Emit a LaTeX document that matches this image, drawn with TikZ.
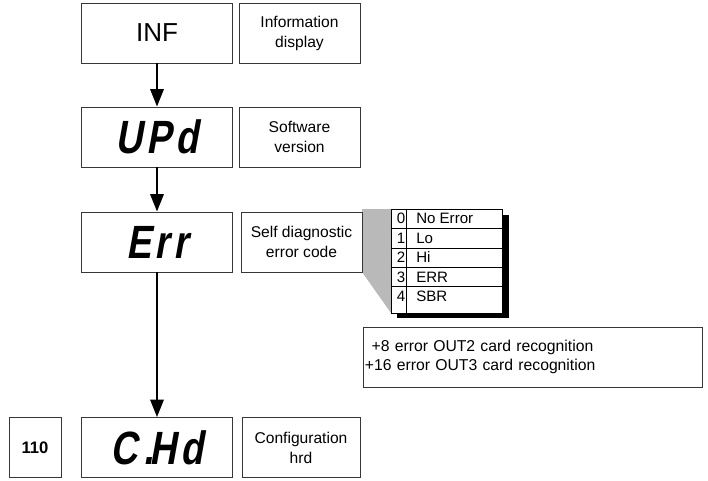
\documentclass[tikz,border=0pt]{standalone}
\usepackage{fontspec}
\setmainfont{Liberation Sans}
\newfontfamily\segfont[FakeSlant=0.18,FakeStretch=0.8,LetterSpace=8]{Liberation Sans}
\usetikzlibrary{arrows.meta}
\definecolor{boxline}{RGB}{55,55,55}
\definecolor{wedge}{RGB}{185,185,185}

\begin{document}
\begin{tikzpicture}[x=0.75pt,y=-0.75pt,>={Triangle[length=13pt,width=10pt]},
  box/.style={draw=boxline,line width=0.7pt,minimum height=45pt,inner sep=0pt},
  disp/.style={box,minimum width=113pt,font=\segfont\bfseries\fontsize{35}{35}\selectfont},
  lbl/.style={box,minimum width=90.75pt,align=center,font=\fontsize{11.7}{15}\selectfont},
  cell/.style={inner sep=0pt,font=\fontsize{11.3}{12}\selectfont},
  flow/.style={->,line width=1.5pt}]
\useasboundingbox (0,0) rectangle (708,480);
% wedge from the label to the code table
\fill[wedge] (362,209) -- (391,209) -- (391,313) -- (362,272) -- cycle;
% left column: displays
\node[box,minimum width=113pt,font=\fontsize{19.5}{20}\selectfont] (inf) at (157,33) {INF};
\node[disp] (upd) at (157,137) {UPd};
\node[disp] (err) at (157,242) {E\kern3pt r\kern3pt r};
\node[disp] (chd) at (157,447.5) {C\hspace{4pt}.\hspace{-3pt}Hd};
\node[box,minimum width=39pt,font=\bfseries\fontsize{12.5}{12.5}\selectfont] (code) at (35,447.5) {110};
% labels
\node[lbl] (infl) at (299.5,33) {Information\\display};
\node[lbl] (updl) at (299.5,137) {Software\\version};
\node[lbl] (errl) at (301.5,242) {Self diagnostic\\error code};
\node[lbl,minimum width=88.5pt] (chdl) at (301,447.5) {Configuration\\hrd};
\draw[flow] (inf) -- (upd);
\draw[flow] (upd) -- (err);
\draw[flow] (err) -- (chd);
% error code table
\fill (397,215) rectangle (509,318);
\node[draw,fill=white,line width=0.7pt,minimum width=83.25pt,minimum height=78pt,inner sep=0pt] (tab) at (446.5,261) {};
\draw[line width=0.7pt] ([xshift=12pt]tab.north west) -- ([xshift=12pt]tab.south west);
\foreach \y in {228,248,267,286}
  \draw[line width=0.7pt] (tab.west |- 0,\y) -- (tab.east |- 0,\y);
\foreach \n/\t in {0/No Error,1/Lo,2/Hi,3/ERR,4/SBR}{
  \node[cell] (n\n) at (401,218.5+19.5*\n) {\n};
  \node[cell,anchor=west] (t\n) at (416,218.5+19.5*\n) {\t};
}
% note on extra codes
\node[box,anchor=west,minimum width=254.25pt,inner xsep=1pt,text width=252pt,align=left,
  font=\fontsize{11.8}{14.25}\selectfont] (note) at (363,357)
  {\hspace{5pt}+8 error OUT2 card recognition\\+16 error OUT3 card recognition};
\end{tikzpicture}
\end{document}
